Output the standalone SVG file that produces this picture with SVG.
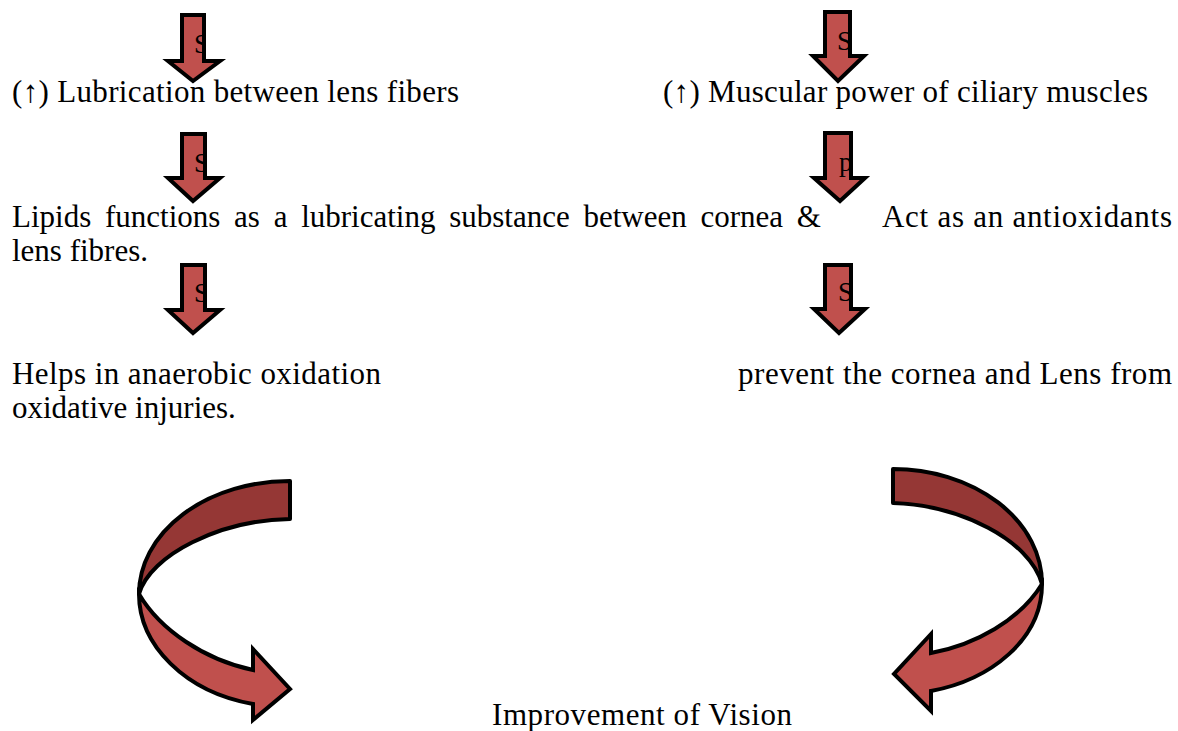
<svg xmlns="http://www.w3.org/2000/svg" width="1178" height="731" viewBox="0 0 1178 731">
<style>
  .t { font-family: "Liberation Serif", "Times New Roman", serif; font-size: 31px; fill: #000; }
  .lbl { font-family: "Liberation Serif", "Times New Roman", serif; font-size: 27px; fill: #000; }
  .arr { fill: #C0504D; stroke: #000; stroke-width: 4; stroke-linejoin: miter; }
  .dark { fill: #953735; stroke: #000; stroke-width: 4; stroke-linejoin: round; }
  .light { fill: #C0504D; stroke: #000; stroke-width: 4; stroke-linejoin: miter; }
</style>
<defs>
  <clipPath id="c1"><rect x="184" y="17" width="18" height="44"/></clipPath>
  <clipPath id="c2"><rect x="827" y="14" width="21" height="42"/></clipPath>
  <clipPath id="c3"><rect x="184" y="136" width="19" height="42"/></clipPath>
  <clipPath id="c4"><rect x="827" y="135" width="22" height="43"/></clipPath>
  <clipPath id="c5"><rect x="184" y="267" width="19" height="43"/></clipPath>
  <clipPath id="c6"><rect x="827" y="267" width="22" height="42"/></clipPath>
</defs>
<rect width="1178" height="731" fill="#fff"/>

<g id="texts">
  <text class="t" x="12" y="102" textLength="447" lengthAdjust="spacing">(↑) Lubrication between lens fibers</text>
  <text class="t" x="663" y="102" textLength="485" lengthAdjust="spacing">(↑) Muscular power of ciliary muscles</text>
  <text class="t" x="12" y="227" word-spacing="6">Lipids functions as a lubricating substance between cornea &amp;</text>
  <text class="t" x="882" y="227" textLength="290" lengthAdjust="spacing">Act as an antioxidants</text>
  <text class="t" x="12" y="261">lens fibres.</text>
  <text class="t" x="12" y="384" textLength="369" lengthAdjust="spacing">Helps in anaerobic oxidation</text>
  <text class="t" x="12" y="418">oxidative injuries.</text>
  <text class="t" x="738" y="384" textLength="434" lengthAdjust="spacing">prevent the cornea and Lens from</text>
  <text id="result" class="t" x="492" y="725" textLength="300" lengthAdjust="spacing">Improvement of Vision</text>
</g>

<g id="connectors">
  <g id="down1">
    <path class="arr" d="M182,15 H204 V61 H220 L193,81 L168,61 H182 Z"/>
    <text class="lbl" x="194" y="53" clip-path="url(#c1)">S</text>
  </g>
  <g id="down2">
    <path class="arr" d="M825,12 H850 V56 H864 L838,81 L813,56 H825 Z"/>
    <text class="lbl" x="837" y="50" clip-path="url(#c2)">S</text>
  </g>
  <g id="down3">
    <path class="arr" d="M182,134 H205 V178 H220 L193,201 L168,178 H182 Z"/>
    <text class="lbl" x="194" y="172" clip-path="url(#c3)">S</text>
  </g>
  <g id="down4">
    <path class="arr" d="M825,133 H851 V178 H865 L840,201 L814,178 H825 Z"/>
    <text class="lbl" x="839" y="171" clip-path="url(#c4)">p</text>
  </g>
  <g id="down5">
    <path class="arr" d="M182,265 H205 V310 H220 L193,333 L168,310 H182 Z"/>
    <text class="lbl" x="194" y="302" clip-path="url(#c5)">S</text>
  </g>
  <g id="down6">
    <path class="arr" d="M825,265 H851 V309 H865 L839,333 L814,309 H825 Z"/>
    <text class="lbl" x="838" y="301" clip-path="url(#c6)">S</text>
  </g>

  <g id="curve-left">
    <path class="dark" d="M290,481 A151,113 0 0 0 139,594 C150,555 220,520 290,519 Z"/>
    <path class="light" d="M139,594 C139,645 185,692 253,704 L253,720 L290,689 L253,649 L253,670 C205,660 160,630 139,594 Z"/>
  </g>
  <g id="curve-right">
    <path class="dark" d="M893,469 A149,115 0 0 1 1042,584 C1030,540 960,505 893,503 Z"/>
    <path class="light" d="M1042,584 C1042,640 990,680 931,691 L931,711 L894,674 L931,634 L931,653 C975,645 1020,620 1042,584 Z"/>
  </g>
</g>
</svg>
